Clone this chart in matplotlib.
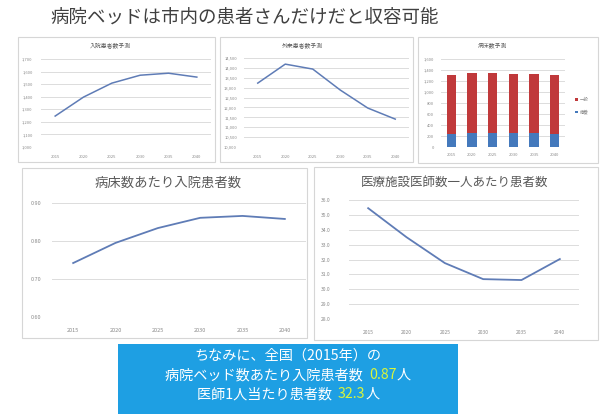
import matplotlib
matplotlib.use("Agg")
import matplotlib.pyplot as plt
from matplotlib.patches import Rectangle

plt.rcParams['font.family'] = ['Noto Sans CJK JP', 'DejaVu Sans']

W, H = 605, 415

# ---- data ----
years = ["2015", "2020", "2025", "2030", "2035", "2040"]

inpatients = [1246, 1397, 1508, 1571, 1587, 1556]
inpatient_ticks = [1000, 1100, 1200, 1300, 1400, 1500, 1600, 1700]

outpatients = [13230, 14190, 13940, 12880, 11970, 11410]
outpatient_ticks = [10000, 10500, 11000, 11500, 12000, 12500, 13000, 13500, 14000, 14500]

beds_general = [1070, 1080, 1080, 1070, 1070, 1070]
beds_longterm = [240, 260, 260, 260, 250, 240]
bed_series = ["一般", "療養"]
bed_ticks = [0, 200, 400, 600, 800, 1000, 1200, 1400, 1600]

patients_per_bed = [0.742, 0.795, 0.834, 0.861, 0.866, 0.858]
per_bed_ticks = [0.60, 0.70, 0.80, 0.90]

patients_per_doctor = [35.45, 33.50, 31.76, 30.68, 30.62, 32.03]
per_doctor_ticks = [28.0, 29.0, 30.0, 31.0, 32.0, 33.0, 34.0, 35.0, 36.0]

LINE = "#5f7cb6"
RED = "#c0393b"
BLUE = "#4479bc"
GRID = "#dcdcdc"
TICK = "#8a8a8a"

fig = plt.figure(figsize=(W / 100, H / 100), dpi=100)


def rect(x0, y0, x1, y1):
    return [x0 / W, 1 - y1 / H, (x1 - x0) / W, (y1 - y0) / H]


def frame(x0, y0, x1, y1):
    fig.patches.append(Rectangle((x0 / W, 1 - y1 / H), (x1 - x0) / W, (y1 - y0) / H,
                                 transform=fig.transFigure, facecolor="white",
                                 edgecolor="#d6d6d6", linewidth=0.8, zorder=-5))


def style(ax, ticks, fmt, fs, ypad, xpad):
    ax.set_xlim(-0.5, len(years) - 0.5)
    ax.set_ylim(ticks[0], ticks[-1])
    ax.set_yticks(ticks)
    ax.set_yticklabels([fmt(t) for t in ticks])
    ax.set_xticks(range(len(years)))
    ax.set_xticklabels(years)
    ax.tick_params(axis="y", length=0, labelsize=fs, colors=TICK, pad=ypad)
    ax.tick_params(axis="x", length=0, labelsize=fs, colors=TICK, pad=xpad)
    for s in ax.spines.values():
        s.set_visible(False)
    ax.grid(axis="y", color=GRID, linewidth=0.7)
    ax.set_axisbelow(True)
    ax.patch.set_alpha(0)


def ptitle(x, y, s, fs):
    fig.text(x / W, 1 - y / H, s, ha="center", va="center", fontsize=fs, color="#595959")


# ---- headline ----
fig.text(245 / W, 1 - 18 / H, "病院ベッドは市内の患者さんだけだと収容可能",
         ha="center", va="center", fontsize=13.3, color="#404040")

# ---- panel 1: inpatients ----
frame(18, 37, 215, 162)
ptitle(110, 45, "入院患者数予測", 4.2)
ax1 = fig.add_axes(rect(41, 59, 211, 147))
ax1.plot(range(len(years)), inpatients, color=LINE, lw=1.1)
style(ax1, inpatient_ticks, lambda v: f"{v:,.0f}", 3, 6, 6)

# ---- panel 2: outpatients ----
frame(220, 37, 413, 162)
ptitle(302, 45, "外来患者数予測", 4.2)
ax2 = fig.add_axes(rect(244, 58, 409, 147))
ax2.plot(range(len(years)), outpatients, color=LINE, lw=1.1)
style(ax2, outpatient_ticks, lambda v: f"{v:,.0f}", 3, 5, 6)

# ---- panel 3: beds (stacked) ----
frame(418, 37, 598, 163)
ptitle(493, 45, "病床数予測", 4.2)
ax3 = fig.add_axes(rect(441, 59, 565, 147))
x = range(len(years))
b1 = ax3.bar(x, beds_longterm, width=0.45, color=BLUE, label=bed_series[1])
b2 = ax3.bar(x, beds_general, bottom=beds_longterm, width=0.45, color=RED, label=bed_series[0])
style(ax3, bed_ticks, lambda v: f"{v:,.0f}", 3, 5, 4)
leg = fig.legend([b2, b1], bed_series, loc="center left",
                 bbox_to_anchor=(571 / W, 1 - 106 / H), frameon=False,
                 fontsize=3.2, handlelength=0.6, handleheight=0.6,
                 labelspacing=1.6, handletextpad=0.4)
for t in leg.get_texts():
    t.set_color(TICK)

# ---- panel 4: patients per bed ----
frame(22, 168, 307, 338)
ptitle(168, 183, "病床数あたり入院患者数", 9.6)
ax4 = fig.add_axes(rect(52, 203, 306, 317))
ax4.plot(range(len(years)), patients_per_bed, color=LINE, lw=1.3)
style(ax4, per_bed_ticks, lambda v: f"{v:.2f}", 4, 8, 8)

# ---- panel 5: patients per doctor ----
frame(314, 167, 598, 340)
ptitle(455, 182, "医療施設医師数一人あたり患者数", 9.0)
ax5 = fig.add_axes(rect(349, 200, 579, 319))
ax5.plot(range(len(years)), patients_per_doctor, color=LINE, lw=1.3)
style(ax5, per_doctor_ticks, lambda v: f"{v:.1f}", 3.6, 13, 8)

# ---- note box ----
fig.patches.append(Rectangle((118 / W, 1 - 414 / H), 340 / W, 70 / H,
                             transform=fig.transFigure, facecolor="#1e9fe3",
                             edgecolor="none", zorder=-5))

renderer = fig.canvas.get_renderer()


def rich_line(cx, cy, parts, fs):
    texts = []
    for s, c in parts:
        t = fig.text(0, 1 - cy / H, s, ha="left", va="center", fontsize=fs, color=c)
        texts.append(t)
    widths = [t.get_window_extent(renderer).width for t in texts]
    x0 = cx - sum(widths) / 2
    for t, w in zip(texts, widths):
        t.set_x(x0 / W)
        x0 += w


WHITE = "white"
HL = "#d8f53c"
rich_line(288, 356, [("ちなみに、全国（2015年）の", WHITE)], 10.2)
rich_line(288, 375, [("病院ベッド数あたり入院患者数  ", WHITE), ("0.87", HL), ("人", WHITE)], 10.2)
rich_line(288, 394, [("医師1人当たり患者数  ", WHITE), ("32.3", HL), ("人", WHITE)], 10.2)

fig.savefig("out.png", dpi=100)
